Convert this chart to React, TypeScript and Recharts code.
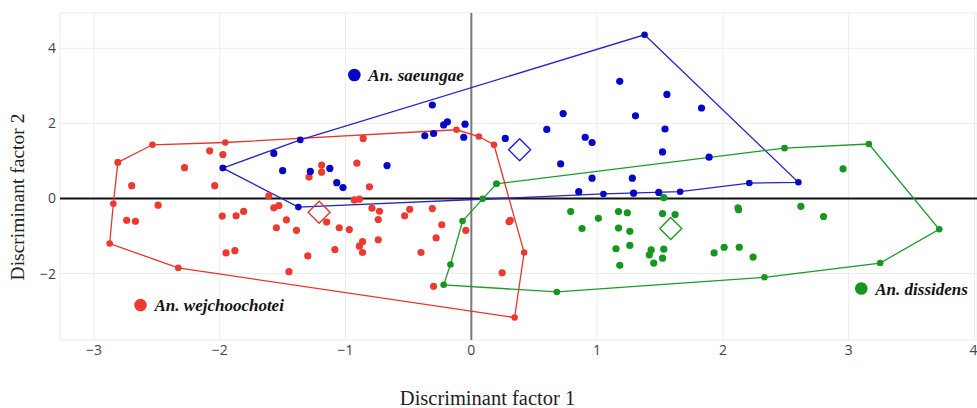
import React from "react";
import {
  ScatterChart,
  Scatter,
  XAxis,
  YAxis,
  CartesianGrid,
  ReferenceLine,
} from "recharts";

type Pt = [number, number];

// group points (discriminant factor 1, factor 2)
const wejPoints: Pt[] = [
  [-2.08, 1.27], [-1.975, 1.17], [-2.28, 0.82], [-2.7, 0.34], [-2.04, 0.34],
  [-1.61, 0.07], [-1.19, 0.89], [-1.19, 0.7], [-1.29, 0.57], [-0.91, 0.94],
  [-0.86, 1.6], [-0.81, 0.31], [-0.93, -0.04], [-0.89, -0.02], [-0.79, -0.26],
  [-0.73, -0.34], [-0.74, -0.56], [-0.49, -0.29], [-0.53, -0.46], [-0.31, -0.27],
  [-0.235, -0.7], [-0.28, -1.05], [-0.4, -1.44], [-0.74, -1.1], [-0.865, -1.15],
  [-0.89, -1.27], [-0.865, -1.44], [-1.085, -1.36], [-1.3, -1.53], [-0.97, -0.83],
  [-1.05, -0.78], [-1.15, -0.63], [-0.044, -0.85], [0.31, -0.58], [0.3, -0.62],
  [0.245, -1.98], [-0.3, -2.34], [-2.49, -0.18], [-2.74, -0.58], [-2.67, -0.61],
  [-1.98, -0.47], [-1.87, -0.46], [-1.81, -0.345], [-1.95, -1.45], [-1.88, -1.39],
  [-1.57, -0.25], [-1.53, -0.19], [-1.47, -0.57], [-1.55, -0.78], [-1.39, -0.85],
  [-1.45, -1.95],
];
const saePoints: Pt[] = [
  [-1.57, 1.2], [-1.5, 0.74], [-1.28, 0.72], [-1.125, 0.8], [-1.07, 0.42],
  [-1.02, 0.29], [-0.67, 0.875], [-0.31, 2.49], [-0.22, 1.96], [-0.19, 2.04],
  [-0.05, 1.98], [-0.37, 1.67], [-0.3, 1.73], [-0.06, 1.63], [0.27, 1.6],
  [0.6, 1.84], [0.73, 2.26], [0.905, 1.63], [0.96, 1.49], [0.71, 0.92],
  [0.96, 0.54], [1.28, 0.54], [1.18, 3.12], [1.555, 2.77], [1.305, 2.2],
  [1.54, 1.85], [1.52, 1.24], [1.83, 2.41], [1.89, 1.1], [0.854, 0.18],
  [1.29, 0.14], [1.49, 0.16],
];
const disPoints: Pt[] = [
  [0.79, -0.35], [0.88, -0.8], [1.01, -0.53], [1.17, -0.35], [1.24, -0.38],
  [1.17, -0.79], [1.26, -0.875], [1.15, -1.34], [1.26, -1.25], [1.18, -1.78],
  [1.43, -1.37], [1.415, -1.5], [1.45, -1.72], [1.52, -1.59], [1.53, -1.35],
  [1.52, -0.4], [1.62, -0.43], [1.53, 0.02], [1.93, -1.45], [2.01, -1.3],
  [2.13, -1.3], [2.24, -1.56], [2.12, -0.25], [2.125, -0.3], [2.62, -0.21],
  [2.8, -0.48], [2.955, 0.79],
];

// convex hull vertices, in drawing order
const wejHull: Pt[] = [
  [-2.81, 0.96], [-2.535, 1.43], [-1.956, 1.49], [-0.118, 1.83], [0.06, 1.65],
  [0.18, 1.43], [0.42, -1.44], [0.344, -3.17], [-2.33, -1.85], [-2.875, -1.2],
  [-2.846, -0.14], [-2.81, 0.96],
];
const saeHull: Pt[] = [
  [-1.975, 0.81], [-1.36, 1.56], [1.377, 4.36], [2.6, 0.43], [2.21, 0.41],
  [1.66, 0.18], [1.05, 0.12], [-1.375, -0.23], [-1.975, 0.81],
];
const disHull: Pt[] = [
  [0.2, 0.39], [2.49, 1.34], [3.16, 1.45], [3.72, -0.82], [3.25, -1.72],
  [2.33, -2.1], [0.68, -2.49], [-0.22, -2.3], [-0.166, -1.76], [-0.07, -0.6],
  [0.09, -0.01], [0.2, 0.39],
];

// group centroids
const centroids: Pt[] = [[-1.21, -0.37], [0.384, 1.3], [1.585, -0.8]];

const groupNames = ["An. wejchoochotei", "An. saeungae", "An. dissidens"];
const labelPos: Pt[] = [[-2.63, -2.84], [-0.93, 3.29], [3.1, -2.4]];

const xTicks = [-3, -2, -1, 0, 1, 2, 3, 4];
const yTicks = [-2, 0, 2, 4];

const RED = "#ec3a31";
const BLUE = "#0606c8";
const GREEN = "#16961f";
const colors = [RED, BLUE, GREEN];
const lineColors = ["#e8352c", "#2424c8", "#1f9a2a"];

const SERIF = "'Liberation Serif', 'Times New Roman', serif";

const toObj = (arr: Pt[]) => arr.map(([x, y]) => ({ x, y }));
const minus = (v: number) => String(v).replace("-", "\u2212");

const dot = (color: string, r = 3.6) => (props: any) =>
  props.cx == null ? <g /> : <circle cx={props.cx} cy={props.cy} r={r} fill={color} />;

const diamond = (color: string) => (props: any) => {
  const { cx, cy } = props;
  if (cx == null) return <g />;
  const h = 11;
  return (
    <polygon
      points={`${cx},${cy - h} ${cx + h},${cy} ${cx},${cy + h} ${cx - h},${cy}`}
      fill="none"
      stroke={color}
      strokeWidth={1.4}
    />
  );
};

const legendMark = (color: string, name: string) => (props: any) => {
  const { cx, cy } = props;
  if (cx == null) return <g />;
  return (
    <g>
      <circle cx={cx} cy={cy} r={6.3} fill={color} />
      <text
        x={cx + 14}
        y={cy}
        dy="0.35em"
        fontFamily={SERIF}
        fontStyle="italic"
        fontWeight="bold"
        fontSize={17}
        fill="#111"
      >
        {name}
      </text>
    </g>
  );
};

const tickStyle = { fill: "#444", fontSize: 14, fontFamily: "'Open Sans', sans-serif" };

export default function App() {
  const hulls = [wejHull, saeHull, disHull];
  const points = [wejPoints, saePoints, disPoints];
  return (
    <div style={{ position: "relative", width: 977, height: 408, background: "#fff", overflow: "hidden" }}>
      <style>{`body{margin:0}`}</style>
      <ScatterChart width={977} height={408} margin={{ top: 13, right: 0, bottom: 0, left: 0 }}>
        <CartesianGrid stroke="#ececec" strokeWidth={1} />
        <XAxis
          type="number"
          dataKey="x"
          domain={[-3.27, 4.02]}
          ticks={xTicks}
          allowDataOverflow
          axisLine={false}
          tickLine={false}
          tickSize={0}
          tickMargin={5}
          height={68}
          tick={tickStyle}
          tickFormatter={minus}
          label={{
            value: "Discriminant factor 1",
            position: "insideBottom",
            offset: 3,
            dx: -31,
            style: { fontFamily: SERIF, fontSize: 20.5, fill: "#222" },
          }}
        />
        <YAxis
          type="number"
          dataKey="y"
          domain={[-3.77, 4.94]}
          ticks={yTicks}
          allowDataOverflow
          axisLine={false}
          tickLine={false}
          tickSize={0}
          tickMargin={4}
          width={60}
          tick={tickStyle}
          tickFormatter={minus}
        />
        <ReferenceLine x={0} stroke="#7a7a7a" strokeWidth={2} />
        <ReferenceLine y={0} stroke="#111" strokeWidth={2} />
        {hulls.map((h, i) => (
          <Scatter
            key={`hull-${i}`}
            data={toObj(h)}
            line={{ stroke: lineColors[i], strokeWidth: 1.3 }}
            lineType="joint"
            shape={dot(colors[i], 3.3)}
            isAnimationActive={false}
          />
        ))}
        {points.map((p, i) => (
          <Scatter
            key={`pts-${i}`}
            data={toObj(p)}
            shape={dot(colors[i])}
            isAnimationActive={false}
          />
        ))}
        {centroids.map((c, i) => (
          <Scatter
            key={`cen-${i}`}
            data={toObj([c])}
            shape={diamond(lineColors[i])}
            isAnimationActive={false}
          />
        ))}
        {labelPos.map((c, i) => (
          <Scatter
            key={`lab-${i}`}
            data={toObj([c])}
            shape={legendMark(colors[i], groupNames[i])}
            isAnimationActive={false}
          />
        ))}
      </ScatterChart>
      <div
        style={{
          position: "absolute",
          left: 18,
          top: 197,
          transform: "translate(-50%, -50%) rotate(-90deg)",
          fontFamily: SERIF,
          fontSize: 19.5,
          color: "#222",
          whiteSpace: "nowrap",
        }}
      >
        Discriminant factor 2
      </div>
    </div>
  );
}
